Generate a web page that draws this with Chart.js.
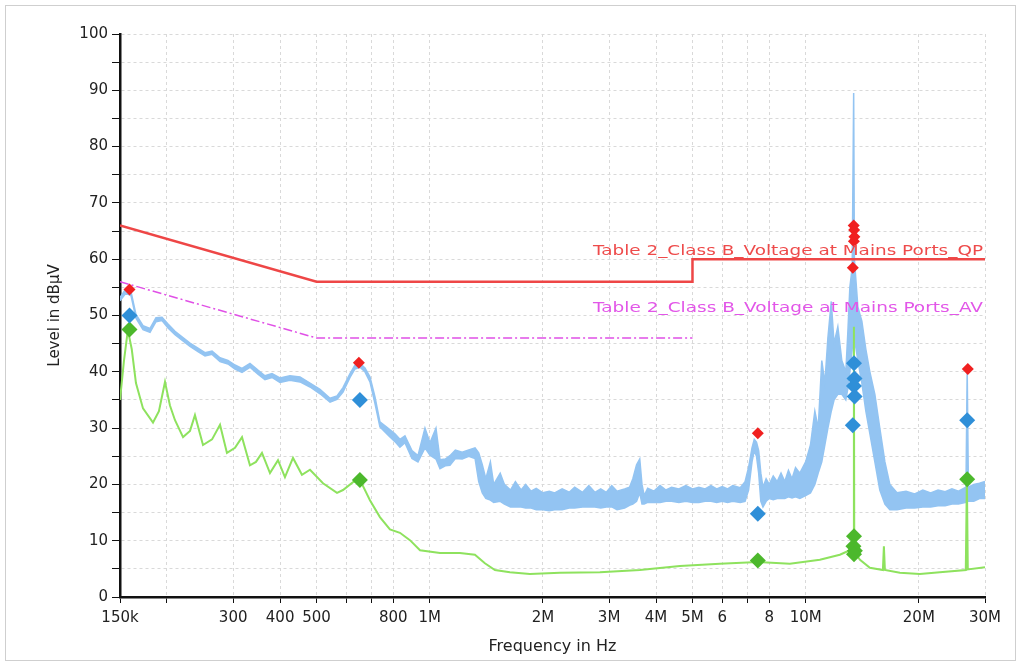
<!DOCTYPE html>
<html lang="en">
<head>
    <meta charset="UTF-8">
    <title>Conducted emission scan</title>
    <script src="https://cdn.jsdelivr.net/npm/chart.js"></script>
    <style>
        html, body { margin: 0; padding: 0; background: #fff; }
        .frame {
            position: absolute;
            left: 5px; top: 5px;
            width: 1009px; height: 654px;
            border: 1px solid #cfcfcf;
        }
        #emiChart { display: block; }
    </style>
</head>
<body>
    <div class="frame">
        <canvas id="emiChart" width="1009" height="654"></canvas>
    </div>

    <script>
        // frequency axis (MHz) and its labels
        const xTickVals = [0.15, 0.2, 0.3, 0.4, 0.5, 0.6, 0.7, 0.8, 1, 2, 3, 4, 5, 6, 7, 8, 10, 20, 30];
        const xTickLabels = ['150k', '', '300', '400', '500', '', '', '800', '1M', '2M', '3M', '4M', '5M', '6', '', '8', '10M', '20M', '30M'];

        // limit lines
        const qpLimitFreq = [0.15, 0.5, 5, 5, 30];
        const qpLimitLevel = [66, 56, 56, 60, 60];
        const avLimitFreq = [0.15, 0.5, 5];
        const avLimitLevel = [56, 46, 46];
        const limitNames = ['Table 2_Class B_Voltage at Mains Ports_QP', 'Table 2_Class B_Voltage at Mains Ports_AV'];

        // peak scan (light blue) - upper and lower edge of the trace
        const peakFreq = [0.150, 0.1556, 0.1605, 0.1654, 0.1727, 0.1803, 0.187, 0.194, 0.2013, 0.2101, 0.2193, 0.2303, 0.2418, 0.2525, 0.2636, 0.2768, 0.2906, 0.3034, 0.3167, 0.3325,
            0.3492, 0.3645, 0.3805, 0.3995, 0.4248, 0.4517, 0.4803, 0.5107, 0.543, 0.5667, 0.5879, 0.6137, 0.6326, 0.6523, 0.6725, 0.6934, 0.7149, 0.7371, 0.7741, 0.8081,
            0.8332, 0.8592, 0.8969, 0.9305, 0.9713, 1.0016, 1.039, 1.065, 1.10, 1.132, 1.17, 1.22, 1.27, 1.32, 1.35, 1.38, 1.41, 1.45, 1.48, 1.54,
            1.58, 1.64, 1.69, 1.75, 1.80, 1.86, 1.92, 2.0, 2.08, 2.15, 2.25, 2.35, 2.43, 2.55, 2.65, 2.75, 2.85, 2.95, 3.05, 3.15,
            3.30, 3.40, 3.47, 3.55, 3.62, 3.67, 3.72, 3.80, 3.95, 4.1, 4.25, 4.4, 4.6, 4.8, 5.0, 5.2, 5.4, 5.6, 5.8, 6.0,
            6.2, 6.4, 6.7, 6.9, 7.05, 7.2, 7.3, 7.4, 7.5, 7.6, 7.7, 7.85, 8.0, 8.2, 8.4, 8.6, 8.8, 9.0, 9.2, 9.4,
            9.65, 10.0, 10.3, 10.58, 10.8, 11.04, 11.25, 11.46, 11.7, 11.9, 12.18, 12.48, 12.79, 12.95, 13.11, 13.3, 13.42, 13.48, 13.77, 14.11,
            14.46, 14.82, 15.28, 15.75, 16.25, 16.75, 17.5, 18.5, 19.5, 20.5, 21.5, 22.5, 23.5, 24.5, 25.5, 26.7, 26.9, 27.1, 28, 29, 30];
        const peakHi = [53.2, 54.8, 54.2, 50.2, 48.2, 47.7, 49.6, 49.7, 48.5, 47.2, 46.2, 45.1, 44.2, 43.4, 43.7, 42.5, 42, 41.2, 40.6, 41.5,
            40.3, 39.3, 39.7, 38.9, 39.3, 39.1, 38, 36.9, 35.3, 35.7, 37.2, 39.7, 41.2, 41.5, 40.7, 39.1, 35.6, 31.1, 30, 29,
            28, 28.6, 26, 25.1, 30, 27.4, 30, 24.4, 24.5, 25.1, 26.1, 25.7, 26.1, 26.5, 25.6, 23.5, 21, 24, 20, 22,
            20, 19, 20.5, 19, 20, 18.8, 19.3, 18.5, 18.8, 18.5, 19.2, 18.6, 19.5, 18.6, 19.8, 18.6, 19.2, 18.6, 19.8, 18.8,
            19.2, 19.5, 21, 23.5, 24.5, 20, 18, 19.3, 18.8, 19.8, 19, 19.5, 19.2, 19.8, 19.2, 19.5, 19.2, 19.8, 19.2, 19.6,
            19.2, 19.8, 19.4, 20.5, 23, 26.5, 28, 27.5, 26, 22, 19.5, 21, 20, 21.5, 20.5, 22, 20.5, 22.5, 21, 23,
            22, 24, 27, 33, 30, 42, 38, 46, 52.5, 45, 48, 42, 40, 47, 55, 58.5, 89.5, 60, 51.5, 49,
            44, 40, 36, 30, 24, 20, 18.5, 18.8, 18.3, 19, 18.5, 19, 18.7, 19.2, 18.8, 19.5, 40.5, 19.5, 20, 20.2, 20.5];
        const peakLo = [52.6, 54, 53.5, 49.5, 47.5, 47, 48.9, 49.1, 47.8, 46.6, 45.6, 44.5, 43.6, 42.8, 43.1, 41.8, 41.4, 40.5, 39.9, 40.8,
            39.6, 38.6, 39, 38.1, 38.5, 38.2, 37.3, 36.1, 34.6, 35.1, 36.4, 39, 40.5, 40.8, 40, 38.2, 34.4, 30.2, 28.8, 27.6,
            26.6, 27.4, 24.6, 24, 26.5, 25.2, 24.5, 22.8, 23.3, 23.4, 24.6, 24.5, 25, 24.6, 20.5, 18.5, 17.5, 17.2, 16.8, 17,
            16.5, 16, 16, 16, 15.8, 15.8, 15.5, 15.5, 15.3, 15.5, 15.5, 15.8, 15.8, 16, 16, 16, 15.8, 16, 16, 15.5,
            15.8, 16.3, 16.5, 17, 18.5, 16.5, 16.5, 16.8, 16.8, 16.8, 17, 17, 16.8, 17, 16.8, 16.8, 17, 17, 16.8, 17,
            16.8, 17, 16.8, 17, 19, 24, 26, 25, 22, 17, 16, 17, 17.5, 17.3, 17.5, 17.5, 17.5, 17.8, 17.6, 17.8,
            17.5, 18, 18.5, 20, 22, 24, 27, 30, 33, 35, 36, 36, 35, 37, 40, 44, 47, 46, 42, 38,
            33, 29, 24, 19, 16.5, 15.5, 15.5, 15.8, 15.8, 16, 16, 16.2, 16.2, 16.5, 16.5, 16.8, 17, 17, 17, 17.5, 17.5];

        // average scan (green)
        const avgFreq = [0.150, 0.1537, 0.1574, 0.1612, 0.1654, 0.1727, 0.1836, 0.1904, 0.1976, 0.2037, 0.2101, 0.2207, 0.2303, 0.2374, 0.2494, 0.2636, 0.2768, 0.2888, 0.3034, 0.3167,
            0.3325, 0.3450, 0.3579, 0.3759, 0.3948, 0.4120, 0.4328, 0.4572, 0.4803, 0.5201, 0.5667, 0.5879, 0.6250, 0.6523, 0.6934, 0.7371, 0.7837, 0.8332, 0.8858, 0.9423,
            1.065, 1.203, 1.319, 1.402, 1.491, 1.634, 1.847, 2.220, 2.836, 3.623, 4.629, 5.913, 7.464, 9.078, 10.91, 12.33, 13.11, 13.42, 13.44, 13.47,
            13.95, 14.82, 16.05, 16.15, 16.25, 17.81, 20.13, 22.75, 26.67, 26.85, 27.0, 30];
        const avgLevel = [35, 42, 47.4, 44, 38, 33.5, 31, 33, 38.2, 34, 31.4, 28.4, 29.5, 32.3, 27, 28, 30.6, 25.6, 26.5, 28.4,
            23.4, 24, 25.6, 22, 24.3, 21.3, 24.7, 21.7, 22.6, 20.2, 18.5, 19, 20.4, 20.8, 17.2, 14.2, 12, 11.4, 10.1, 8.3,
            7.8, 7.8, 7.5, 6, 4.8, 4.4, 4.1, 4.3, 4.4, 4.8, 5.5, 5.9, 6.2, 5.9, 6.6, 7.5, 8.3, 8.5, 48, 8,
            6.6, 5.2, 4.8, 9, 4.8, 4.3, 4.1, 4.4, 4.8, 21, 4.9, 5.3];

        // final measurement markers
        const qpPeakFreq = [0.159, 0.648, 7.46, 13.42, 13.46, 13.48, 13.44, 13.35, 27.0];
        const qpPeakLevel = [54.6, 41.6, 29.1, 66, 65.2, 64, 63.2, 58.5, 40.5];
        const qpFreq = [0.159, 0.652, 7.46, 13.45, 13.49, 13.44, 13.5, 13.35, 26.9];
        const qpLevel = [50, 35, 14.8, 41.5, 38.8, 37.5, 35.6, 30.5, 31.4];
        const avFreq = [0.159, 0.652, 7.46, 13.45, 13.4, 13.52, 13.45, 26.9];
        const avLevel = [47.5, 20.8, 6.5, 10.8, 9, 8.2, 7.6, 20.9];

        const pts = (xs, ys) => xs.map((x, i) => ({ x: x, y: ys[i] }));

        const fontFamily = '"DejaVu Sans", Arial, sans-serif';
        const traceBlue = '#93c4f2';

        // limit line captions, drawn right aligned above each limit
        const limitCaptions = {
            id: 'limitCaptions',
            afterDatasetsDraw(chart) {
                const { ctx, chartArea, scales } = chart;
                const items = [
                    { text: limitNames[0], color: '#ee4b4b', level: qpLimitLevel[4] },
                    { text: limitNames[1], color: '#e256e8', level: 50 }
                ];
                ctx.save();
                ctx.font = '14px ' + fontFamily;
                ctx.textAlign = 'right';
                ctx.textBaseline = 'alphabetic';
                items.forEach(function (it) {
                    const w = ctx.measureText(it.text).width;
                    const sx = 390 / w;
                    ctx.save();
                    ctx.translate(chartArea.right - 2, scales.y.getPixelForValue(it.level) - 4);
                    ctx.scale(sx, 1);
                    ctx.fillStyle = it.color;
                    ctx.fillText(it.text, 0, 0);
                    ctx.restore();
                });
                ctx.restore();
            }
        };

        const ctx = document.getElementById('emiChart').getContext('2d');
        const emiChart = new Chart(ctx, {
            type: 'scatter',
            data: {
                datasets: [
                    {
                        label: 'QP peak', data: pts(qpPeakFreq, qpPeakLevel),
                        pointStyle: 'rectRot', pointRadius: 6, backgroundColor: '#f02020', borderColor: '#f02020', borderWidth: 0, order: 0
                    },
                    {
                        label: 'QP', data: pts(qpFreq, qpLevel),
                        pointStyle: 'rectRot', pointRadius: 8, backgroundColor: '#2f8fd8', borderColor: '#2f8fd8', borderWidth: 0, order: 0
                    },
                    {
                        label: 'AV', data: pts(avFreq, avLevel),
                        pointStyle: 'rectRot', pointRadius: 8, backgroundColor: '#4cb82c', borderColor: '#4cb82c', borderWidth: 0, order: 0
                    },
                    {
                        label: limitNames[0], data: pts(qpLimitFreq, qpLimitLevel), showLine: true,
                        borderColor: '#ee4646', borderWidth: 2.5, pointRadius: 0, order: 1
                    },
                    {
                        label: limitNames[1], data: pts(avLimitFreq, avLimitLevel), showLine: true,
                        borderColor: '#e050e6', borderWidth: 1.5, borderDash: [9, 3, 2, 3], pointRadius: 0, order: 1
                    },
                    {
                        label: 'Average', data: pts(avgFreq, avgLevel), showLine: true,
                        borderColor: '#8ee25e', borderWidth: 2, pointRadius: 0, order: 2
                    },
                    {
                        label: 'Peak', data: pts(peakFreq, peakHi), showLine: true, fill: '+1',
                        borderColor: traceBlue, backgroundColor: traceBlue, borderWidth: 1.5, pointRadius: 0, order: 3
                    },
                    {
                        label: 'Peak low', data: pts(peakFreq, peakLo), showLine: true,
                        borderColor: traceBlue, borderWidth: 1.5, pointRadius: 0, order: 3
                    }
                ]
            },
            options: {
                responsive: false,
                animation: false,
                layout: { padding: { left: 36, top: 28, right: 30, bottom: 0 } },
                plugins: {
                    legend: { display: false },
                    tooltip: { enabled: false }
                },
                scales: {
                    x: {
                        type: 'logarithmic',
                        min: 0.15,
                        max: 30,
                        afterBuildTicks: function (scale) {
                            scale.ticks = xTickVals.map(v => ({ value: v }));
                        },
                        afterFit: function (scale) { scale.height = 63; },
                        ticks: {
                            autoSkip: false,
                            maxRotation: 0,
                            padding: 6,
                            color: '#222',
                            font: { family: fontFamily, size: 15 },
                            callback: function (value) {
                                const i = xTickVals.findIndex(v => Math.abs(v - value) < 1e-6);
                                return i >= 0 ? xTickLabels[i] : '';
                            }
                        },
                        grid: { color: '#d9d9d9', tickColor: '#111', tickLength: 6, lineWidth: 1 },
                        border: { color: '#111', width: 2.5, dash: [3, 3] },
                        title: {
                            display: true, text: 'Frequency in Hz', color: '#222',
                            font: { family: fontFamily, size: 16 }, padding: { top: 0 }
                        }
                    },
                    y: {
                        min: 0,
                        max: 100,
                        afterFit: function (scale) { scale.width = 78; },
                        ticks: {
                            stepSize: 5,
                            autoSkip: false,
                            padding: 4,
                            color: '#222',
                            font: { family: fontFamily, size: 15 },
                            callback: function (value) { return value % 10 === 0 ? value : ''; }
                        },
                        grid: { color: '#d9d9d9', tickColor: '#111', tickLength: 8, lineWidth: 1 },
                        border: { color: '#111', width: 2.5, dash: [3, 3] },
                        title: {
                            display: true, text: 'Level in dBµV', color: '#222',
                            font: { family: fontFamily, size: 15 }, padding: { top: 4, bottom: 4 }
                        }
                    }
                }
            },
            plugins: [limitCaptions]
        });
    </script>
</body>
</html>
